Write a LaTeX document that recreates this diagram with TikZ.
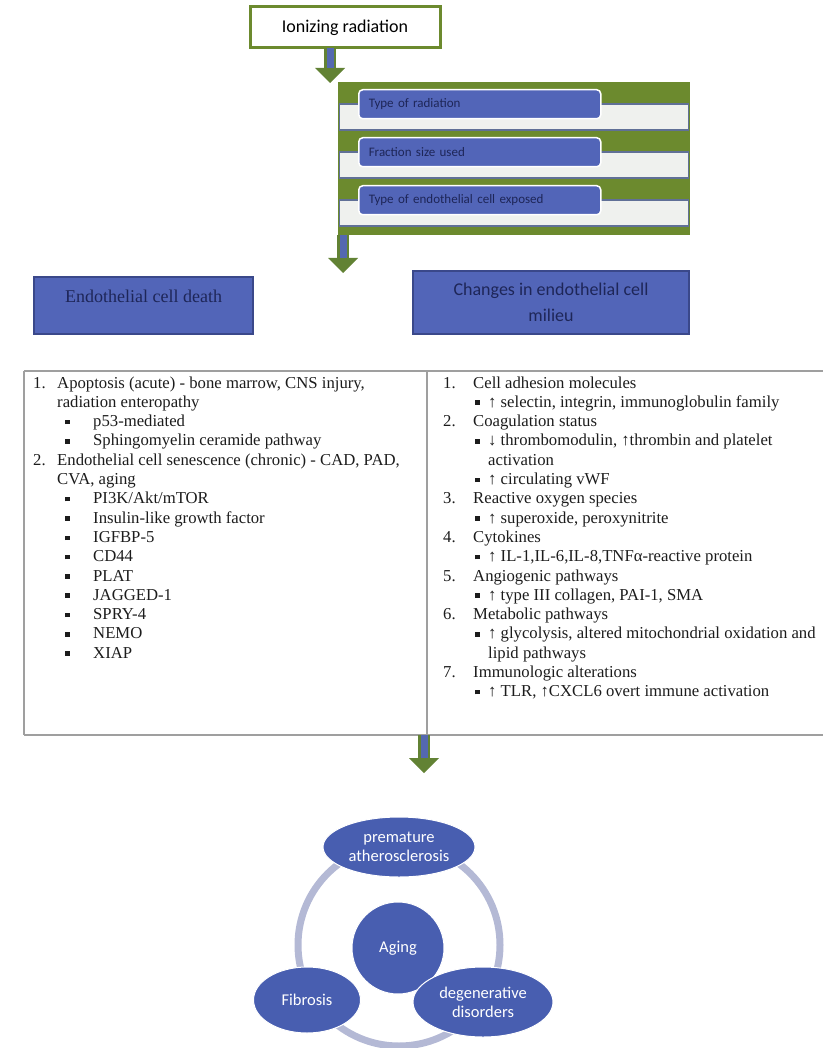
\documentclass[tikz,border=0pt]{standalone}
\usepackage{fontspec}
\setmainfont{Liberation Serif}
\newfontfamily\calibfont{Carlito}
\usepackage{tikz}
\usetikzlibrary{shapes.geometric, arrows.meta}
\definecolor{radgreen}{RGB}{108,138,46}
\definecolor{arrowgreen}{RGB}{98,130,52}
\definecolor{arrowblue}{RGB}{84,104,176}
\definecolor{boxblue}{RGB}{82,101,184}
\definecolor{boxedge}{RGB}{58,72,138}
\definecolor{navytext}{RGB}{30,38,88}
\definecolor{stripfill}{RGB}{239,241,238}
\definecolor{stripedge}{RGB}{96,112,150}
\definecolor{ringgray}{RGB}{180,185,213}
\definecolor{cycleblue}{RGB}{72,94,176}
\definecolor{listtext}{RGB}{28,28,28}
\newcommand{\itemnum}[2]{\makebox[#1][l]{#2}}
\newcommand{\sqbul}[1]{\makebox[#1][l]{\rule[2.4pt]{4.5pt}{4.5pt}}}
\tikzstyle{fatarrow} = [line width=12pt, draw=arrowgreen, -{Triangle[length=15pt,width=30pt,line width=0pt]}]
\tikzstyle{fatshaft} = [line width=7pt, draw=arrowblue, shorten >=15pt]

\begin{document}
\begin{tikzpicture}[x=1pt, y=-1pt,
    titlebox/.style={draw=radgreen, line width=3pt, fill=white, minimum width=190pt, minimum height=41pt,
      font=\calibfont\fontsize{18}{22}\selectfont},
    typebox/.style={fill=boxblue, draw=white, line width=1.5pt, rounded corners=4pt, anchor=north west,
      text width=222pt, inner xsep=10pt, minimum height=29pt, align=left, text=navytext,
      font=\calibfont\fontsize{13}{15}\selectfont},
    effectbox/.style={fill=boxblue, draw=boxedge, line width=1.2pt, text=navytext},
    listline/.style={anchor=base west, inner sep=0pt, text=listtext, font=\fontsize{16.7}{19.3}\selectfont},
    cyclenode/.style={fill=cycleblue, draw=white, line width=1pt, text=white, align=center,
      font=\calibfont\fontsize{16.5}{19}\selectfont},
  ]
  \useasboundingbox (0,0) rectangle (823,1048);

  % ionizing radiation and its modifiers
  \node[titlebox] (ionizing) at (345,27.5) {Ionizing radiation};
  \node[fill=radgreen, minimum width=352pt, minimum height=153pt, inner sep=0pt] (panel) at (514,158.5) {};
  \foreach \y/\txt [count=\k] in {89/Type of radiation, 137/Fraction size used, 185/Type of endothelial cell exposed} {
    \draw[fill=stripfill, draw=stripedge, line width=1.5pt] (339.5,\y+15) rectangle (688.5,\y+41);
    \node[typebox] (type\k) at (358,\y) {\txt};
  }
  \coordinate (a1s) at (330,48);
  \coordinate (a1e) at (330,83);
  \draw[fatarrow] (a1s) -- (a1e);
  \draw[fatshaft] (a1s) -- (a1e);
  \coordinate (a2s) at (343,235);
  \coordinate (a2e) at (343,273);
  \draw[fatarrow] (a2s) -- (a2e);
  \draw[fatshaft] (a2s) -- (a2e);

  % two branches
  \node[effectbox, minimum width=219pt, minimum height=57pt, text height=12pt, text depth=19pt,
    font=\fontsize{18}{22}\selectfont] (death) at (143.5,305.5) {Endothelial cell death};
  \node[effectbox, minimum width=276pt, minimum height=63pt, align=center,
    font=\calibfont\fontsize{18}{26}\selectfont] (milieu) at (551,302.5) {Changes in endothelial cell\\milieu};

  % table
  \draw[gray!75, line width=1.4pt] (24,371) -- (823,371);
  \draw[gray!75, line width=1.4pt] (24,735) -- (823,735);
  \draw[gray!75, line width=1.4pt] (24,371) -- (24,735);
  \draw[gray!75, line width=1.4pt] (427,371) -- (427,735);
  \foreach \dx/\txt [count=\i] in {
      0/{\itemnum{24pt}{1.}Apoptosis (acute) - bone marrow, CNS injury,},
      24/{radiation enteropathy},
      32/{\sqbul{28pt}p53-mediated},
      32/{\sqbul{28pt}Sphingomyelin ceramide pathway},
      0/{\itemnum{24pt}{2.}Endothelial cell senescence (chronic) - CAD, PAD,},
      24/{CVA, aging},
      32/{\sqbul{28pt}PI3K/Akt/mTOR},
      32/{\sqbul{28pt}Insulin-like growth factor},
      32/{\sqbul{28pt}IGFBP-5},
      32/{\sqbul{28pt}CD44},
      32/{\sqbul{28pt}PLAT},
      32/{\sqbul{28pt}JAGGED-1},
      32/{\sqbul{28pt}SPRY-4},
      32/{\sqbul{28pt}NEMO},
      32/{\sqbul{28pt}XIAP}} {
    \node[listline] (death\i) at (33+\dx,{388+(\i-1)*19.3}) {\txt};
  }
  \foreach \dx/\txt [count=\i] in {
      0/{\itemnum{30pt}{1.}Cell adhesion molecules},
      32/{\sqbul{13pt}↑ selectin, integrin, immunoglobulin family},
      0/{\itemnum{30pt}{2.}Coagulation status},
      32/{\sqbul{13pt}↓ thrombomodulin, ↑thrombin and platelet},
      45/{activation},
      32/{\sqbul{13pt}↑ circulating vWF},
      0/{\itemnum{30pt}{3.}Reactive oxygen species},
      32/{\sqbul{13pt}↑ superoxide, peroxynitrite},
      0/{\itemnum{30pt}{4.}Cytokines},
      32/{\sqbul{13pt}↑ IL-1,IL-6,IL-8,TNFα-reactive protein},
      0/{\itemnum{30pt}{5.}Angiogenic pathways},
      32/{\sqbul{13pt}↑ type III collagen, PAI-1, SMA},
      0/{\itemnum{30pt}{6.}Metabolic pathways},
      32/{\sqbul{13pt}↑ glycolysis, altered mitochondrial oxidation and},
      45/{lipid pathways},
      0/{\itemnum{30pt}{7.}Immunologic alterations},
      32/{\sqbul{13pt}↑ TLR, ↑CXCL6 overt immune activation}} {
    \node[listline] (milieu\i) at (443+\dx,{388+(\i-1)*19.3}) {\txt};
  }
  \coordinate (a3s) at (424,735);
  \coordinate (a3e) at (424,773);
  \draw[fatarrow] (a3s) -- (a3e);
  \draw[fatshaft] (a3s) -- (a3e);

  % outcome cycle
  \draw[ringgray, line width=7pt] (399,945) circle (101pt);
  \node[cyclenode, shape=circle, minimum size=92pt, inner sep=0pt] (aging) at (398,948) {Aging};
  \node[cyclenode, shape=ellipse, minimum width=152pt, minimum height=60pt, inner sep=0pt] (athero) at (399,847) {premature\\atherosclerosis};
  \node[cyclenode, shape=ellipse, minimum width=107pt, minimum height=66pt, inner sep=0pt] (fibrosis) at (307,1000) {Fibrosis};
  \node[cyclenode, shape=ellipse, minimum width=140pt, minimum height=70pt, inner sep=0pt] (degen) at (483,1002) {degenerative\\disorders};
\end{tikzpicture}
\end{document}
